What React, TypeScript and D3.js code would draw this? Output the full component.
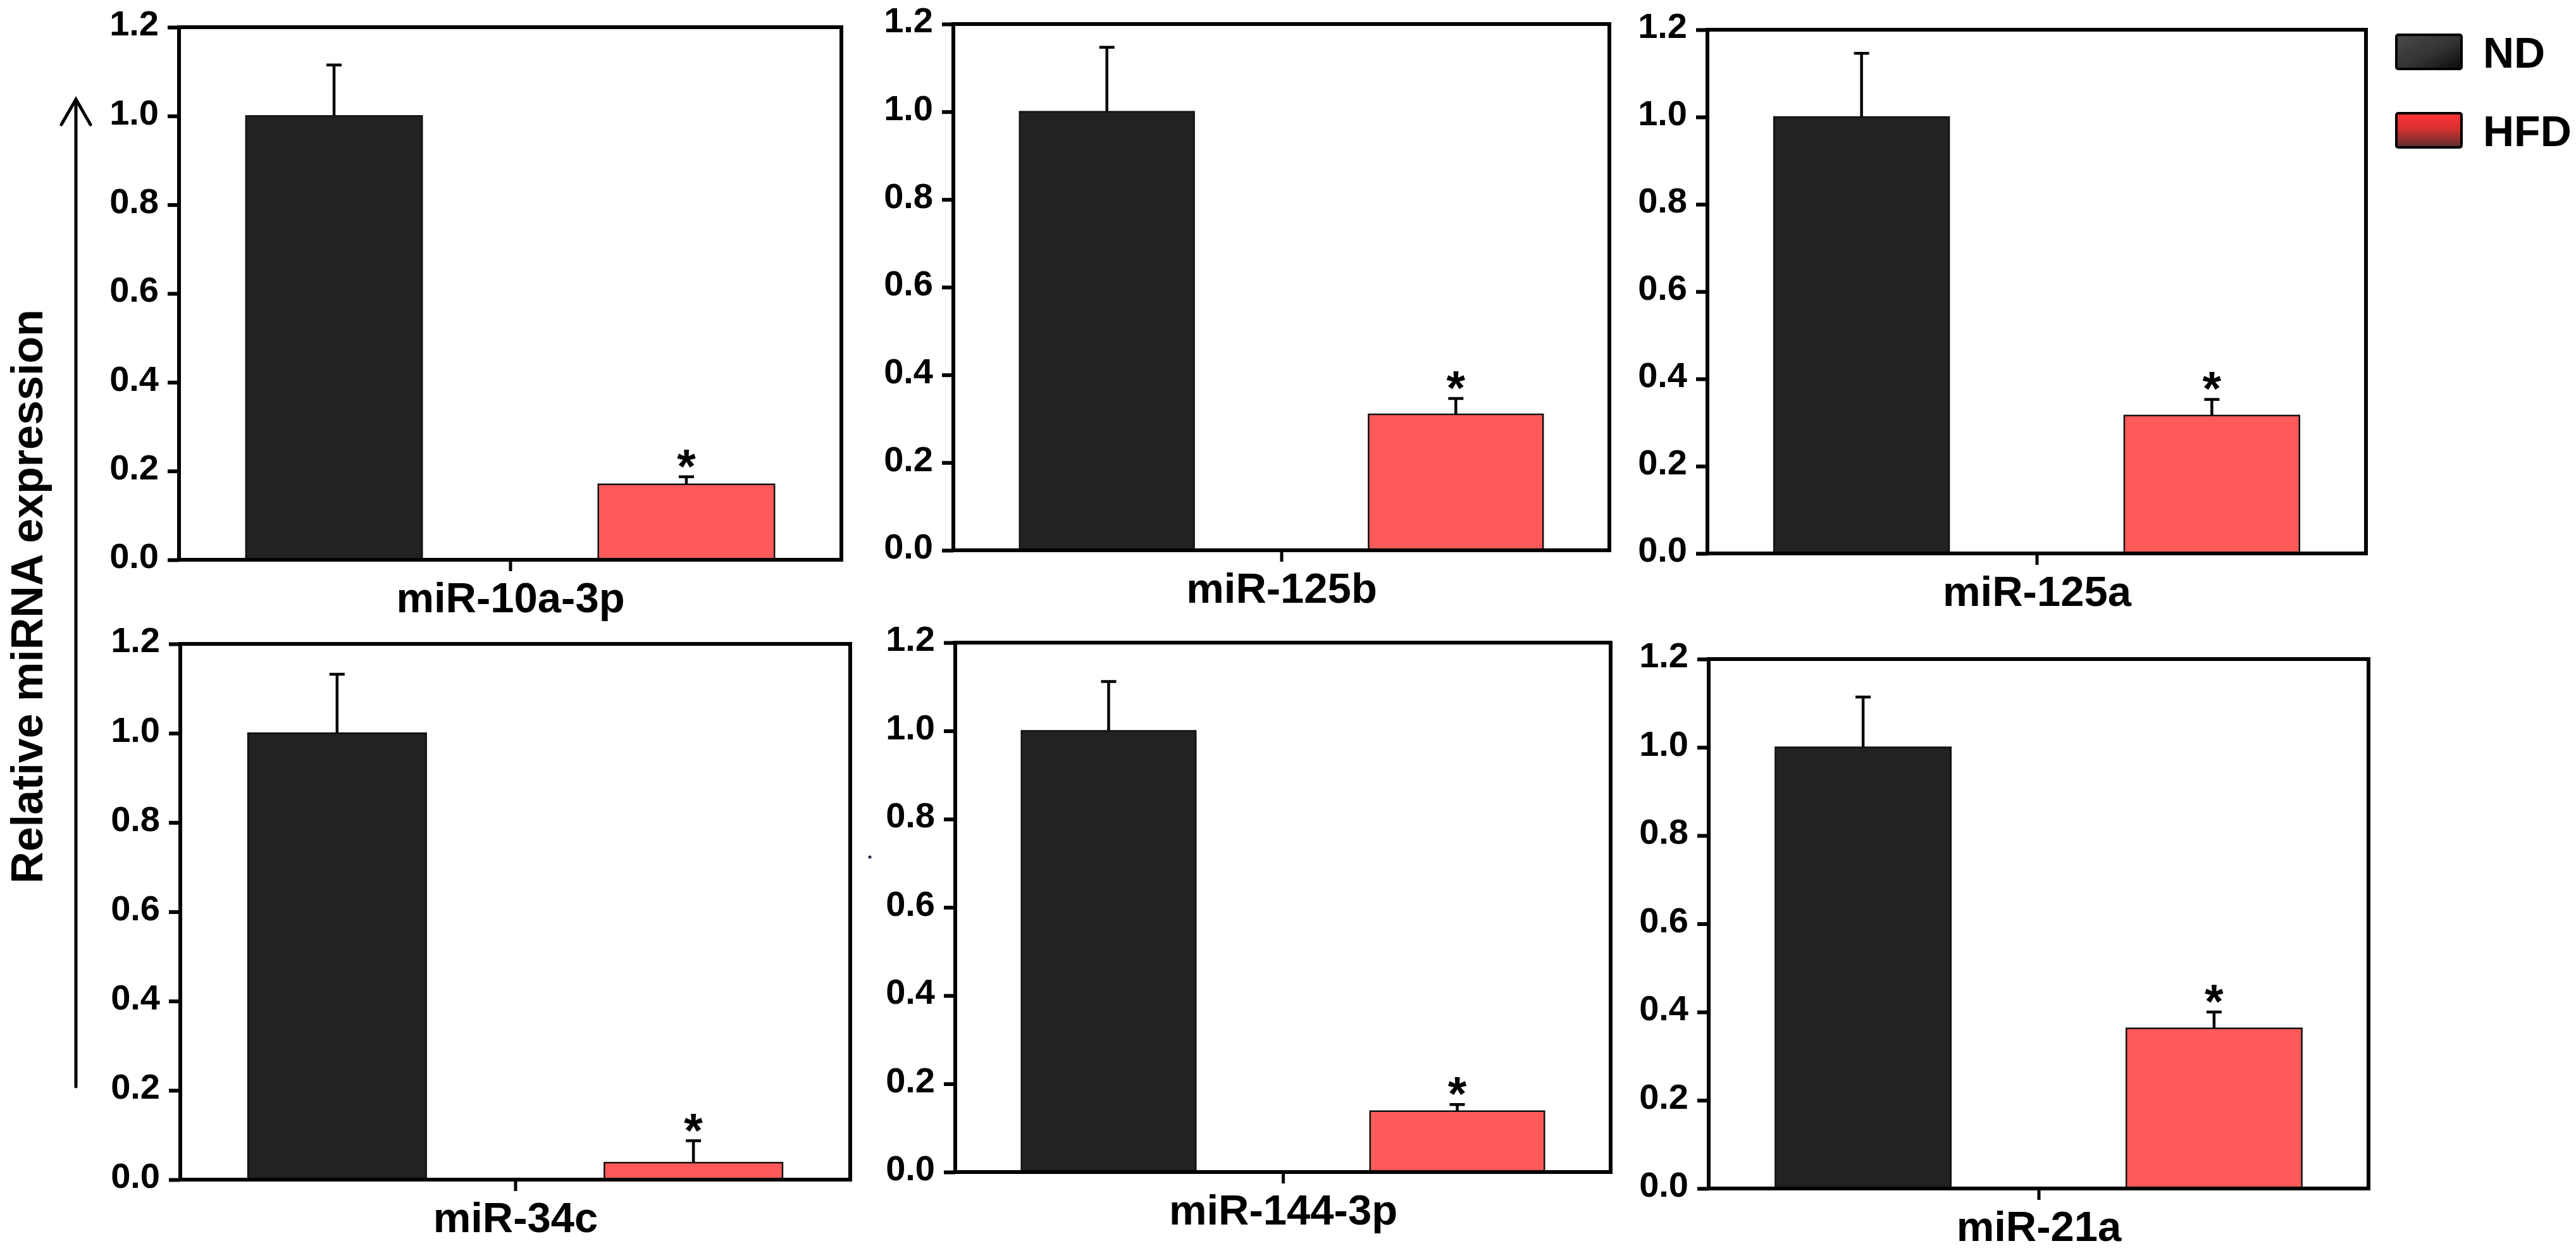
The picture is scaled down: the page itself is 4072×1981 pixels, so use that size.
import * as d3 from "d3";
import { useEffect, useRef } from "react";

const categories = ["miR-10a-3p", "miR-125b", "miR-125a", "miR-34c", "miR-144-3p", "miR-21a"];
const groups = ["ND", "HFD"];
const ndValues = [1.0, 1.0, 1.0, 1.0, 1.0, 1.0];
const ndErrors = [0.115, 0.147, 0.146, 0.132, 0.112, 0.114];
const hfdValues = [0.17, 0.31, 0.316, 0.038, 0.138, 0.363];
const hfdErrors = [0.017, 0.036, 0.037, 0.049, 0.015, 0.037];
const significant = [true, true, true, true, true, true];
const yTicks = [0, 0.2, 0.4, 0.6, 0.8, 1.0, 1.2];

const W = 4072;
const H = 1981;
const FONT = "'Liberation Sans', Arial, Helvetica, sans-serif";

// where each little panel sits on the page (they are not perfectly aligned in the figure)
const panelBoxes = [
    { left: 283, right: 1330, top: 43, bottom: 885 },
    { left: 1507, right: 2544, top: 38, bottom: 870 },
    { left: 2699, right: 3740, top: 47, bottom: 875 },
    { left: 285, right: 1344, top: 1018, bottom: 1865 },
    { left: 1510, right: 2546, top: 1016, bottom: 1853 },
    { left: 2701, right: 3744, top: 1042, bottom: 1879 },
];

const barColors: Record<string, string> = { ND: "#222222", HFD: "#ff5a5a" };

type Sel = d3.Selection<SVGSVGElement, unknown, null, undefined>;

const drawPanel = (svg: Sel, i: number) => {
    const box = panelBoxes[i];
    const g = svg.append("g").attr("class", "panel");

    const y = d3.scaleLinear().domain([0, 1.2]).range([box.bottom, box.top]);
    const x = d3.scaleBand()
        .domain(groups)
        .range([box.left, box.right])
        .paddingInner(0.5)
        .paddingOuter(0.19);

    const values = [ndValues[i], hfdValues[i]];
    const errors = [ndErrors[i], hfdErrors[i]];

    // error bars (upper half only), drawn under the bars
    g.append("g")
        .selectAll("path")
        .data(groups)
        .join("path")
        .attr("d", (d, j) => {
            const cx = (x(d) || 0) + x.bandwidth() / 2;
            const y0 = y(values[j]);
            const y1 = y(values[j] + errors[j]);
            return `M${cx},${y0}V${y1}M${cx - 12},${y1}H${cx + 12}`;
        })
        .attr("fill", "none")
        .attr("stroke", "#000")
        .attr("stroke-width", 4.5);

    g.append("g")
        .selectAll("rect")
        .data(groups)
        .join("rect")
        .attr("x", (d) => x(d) || 0)
        .attr("y", (_, j) => y(values[j]))
        .attr("width", x.bandwidth())
        .attr("height", (_, j) => y(0) - y(values[j]))
        .attr("fill", (d) => barColors[d])
        .attr("stroke", "#111")
        .attr("stroke-width", 2.5);

    if (significant[i]) {
        g.append("text")
            .attr("x", (x("HFD") || 0) + x.bandwidth() / 2)
            .attr("y", y(hfdValues[i] + hfdErrors[i]) + 9)
            .attr("text-anchor", "middle")
            .attr("font-family", FONT)
            .attr("font-weight", "bold")
            .attr("font-size", 76)
            .text("*");
    }

    // frame
    g.append("rect")
        .attr("x", box.left)
        .attr("y", box.top)
        .attr("width", box.right - box.left)
        .attr("height", box.bottom - box.top)
        .attr("fill", "none")
        .attr("stroke", "#000")
        .attr("stroke-width", 6);

    // y axis
    g.append("g")
        .attr("transform", `translate(${box.left},0)`)
        .call(d3.axisLeft(y)
            .tickValues(yTicks)
            .tickFormat(d3.format(".1f"))
            .tickSize(18)
            .tickPadding(14)
            .tickSizeOuter(0))
        .attr("font-family", FONT)
        .attr("font-size", 56)
        .attr("font-weight", "bold")
        .call(a => a.select(".domain").remove())
        .call(a => a.selectAll("line").attr("stroke", "#000").attr("stroke-width", 6))
        .call(a => a.selectAll("text").attr("fill", "#000").attr("dy", "0.23em"));

    // x axis: one category, tick in the middle
    const xCat = d3.scalePoint().domain([categories[i]]).range([box.left, box.right]).padding(0.5);
    g.append("g")
        .attr("transform", `translate(0,${box.bottom})`)
        .call(d3.axisBottom(xCat).tickSize(18).tickPadding(17).tickSizeOuter(0))
        .attr("font-family", FONT)
        .attr("font-size", 67)
        .attr("font-weight", "bold")
        .call(a => a.select(".domain").remove())
        .call(a => a.selectAll("line").attr("stroke", "#000").attr("stroke-width", 5))
        .call(a => a.selectAll("text").attr("fill", "#000"));
};

const drawLegend = (svg: Sel) => {
    const defs = svg.append("defs");
    const ndGrad = defs.append("linearGradient")
        .attr("id", "nd-grad")
        .attr("x1", "0").attr("y1", "0").attr("x2", "1").attr("y2", "1");
    ndGrad.append("stop").attr("offset", "0%").attr("stop-color", "#4a4a4a");
    ndGrad.append("stop").attr("offset", "55%").attr("stop-color", "#333333");
    ndGrad.append("stop").attr("offset", "100%").attr("stop-color", "#0a0a0a");

    const hfdGrad = defs.append("linearGradient")
        .attr("id", "hfd-grad")
        .attr("x1", "0").attr("y1", "0").attr("x2", "0").attr("y2", "1");
    hfdGrad.append("stop").attr("offset", "0%").attr("stop-color", "#ff3535");
    hfdGrad.append("stop").attr("offset", "45%").attr("stop-color", "#d83030");
    hfdGrad.append("stop").attr("offset", "100%").attr("stop-color", "#5a2e2e");

    const legendY = d3.scaleBand().domain(groups).range([55, 210]).paddingInner(0.75).paddingOuter(0);
    const fills: Record<string, string> = { ND: "url(#nd-grad)", HFD: "url(#hfd-grad)" };

    const items = svg.append("g")
        .selectAll("g")
        .data(groups)
        .join("g")
        .attr("transform", (d) => `translate(3788,${legendY(d)})`);

    items.append("rect")
        .attr("width", 103)
        .attr("height", 54)
        .attr("rx", 3)
        .attr("fill", (d) => fills[d])
        .attr("stroke", "#000")
        .attr("stroke-width", 4);

    items.append("text")
        .attr("x", 137)
        .attr("y", 52)
        .attr("font-family", FONT)
        .attr("font-weight", "bold")
        .attr("font-size", 68)
        .attr("fill", "#000")
        .text((d) => d);
};

const drawYTitle = (svg: Sel) => {
    svg.append("text")
        .attr("transform", "translate(67,943) rotate(-90)")
        .attr("text-anchor", "middle")
        .attr("font-family", FONT)
        .attr("font-weight", "bold")
        .attr("font-size", 70)
        .attr("fill", "#000")
        .text("Relative miRNA expression");

    svg.append("path")
        .attr("d", "M120,1718V160M97,197L120,157L143,197")
        .attr("fill", "none")
        .attr("stroke", "#000")
        .attr("stroke-width", 5)
        .attr("stroke-linecap", "round");
};

const App = () => {
    const ref = useRef<SVGSVGElement>(null);

    useEffect(() => {
        const svg = d3.select(ref.current as SVGSVGElement);
        svg.selectAll("*").remove();

        svg.append("rect").attr("width", W).attr("height", H).attr("fill", "#fff");

        categories.forEach((_, i) => drawPanel(svg, i));
        drawLegend(svg);
        drawYTitle(svg);

        // stray speck in the original figure
        svg.append("circle").attr("cx", 1375).attr("cy", 1355).attr("r", 2.5).attr("fill", "#222244");
    }, []);

    return (
        <svg
            ref={ref}
            width={W}
            height={H}
            viewBox={`0 0 ${W} ${H}`}
            style={{ position: "absolute", left: 0, top: 0, display: "block" }}
        />
    );
};

export default App;
